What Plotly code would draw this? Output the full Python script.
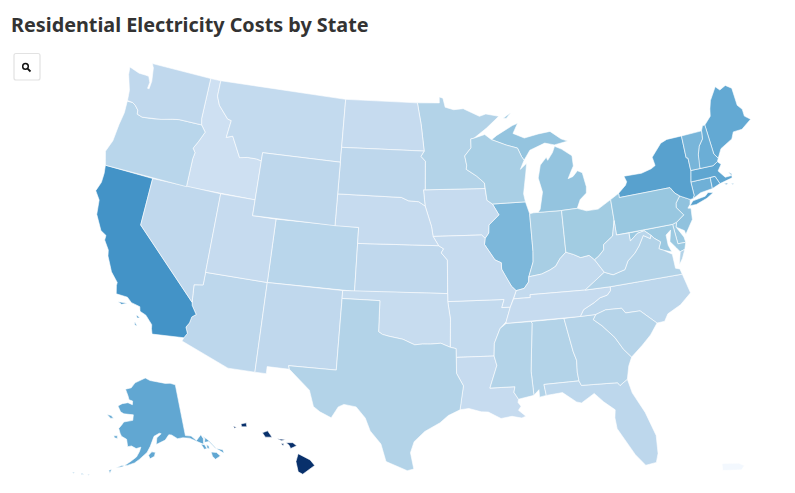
import math
import plotly.graph_objects as go
from plotly.colors import sample_colorscale

# plotly's usa topojson lives on a CDN and there's no network here,
# so the state outlines below are rough lon/lat rings typed by hand
# and projected with the same albers usa setup d3 uses.

STATES = ["AL","AK","AZ","AR","CA","CO","CT","DC","DE","FL","GA","HI","ID","IL","IN","IA","KS","KY","LA","ME","MD","MA","MI","MN","MS","MO","MT","NE","NV","NH","NJ","NM","NY","NC","ND","OH","OK","OR","PA","PR","RI","SC","SD","TN","TX","UT","VT","VA","WA","WV","WI","WY"]
COSTS = [13.0,19.4,12.1,11.5,22.0,12.4,18.2,15.0,15.0,12.1,12.7,33.0,10.1,17.3,14.0,11.2,11.8,11.5,11.2,19.2,15.0,19.6,15.6,13.0,13.0,11.2,11.5,11.2,11.8,18.5,15.9,11.8,20.2,12.1,11.2,14.5,11.1,12.4,15.3,4.6,19.4,12.7,12.0,11.2,13.0,11.2,17.6,13.0,11.8,12.4,13.9,12.0]
ZMIN = 4
ZMAX = 33

OUTLINES = {
    "WA": ["-117.03,49 -122.76,49 -122.55,48.75 -122.45,48.3 -122.35,47.9 -122.4,47.4 -122.55,47.4 -122.5,47.8 -122.75,48.15 -123.1,48.17 -123.7,48.17 -124.7,48.38 -124.6,47.9 -124.1,46.95 -124,46.3 -123.5,46.27 -123.2,46.15 -122.85,45.9 -122.8,45.65 -122.3,45.55 -121.2,45.65 -120.6,45.73 -119.6,45.92 -119,46 -116.92,46 -117.04,46.4"],
    "OR": ["-123.2,46.15 -123.5,46.27 -124,46.25 -123.95,45.5 -124.1,44.7 -124.2,43.6 -124.55,42.84 -124.2,42 -117.03,42 -117.03,43.8 -116.95,44.2 -117.2,44.45 -116.85,44.95 -116.46,45.6 -116.92,46 -119,46 -119.6,45.92 -120.6,45.73 -121.2,45.65 -122.3,45.55 -122.8,45.65 -122.85,45.9"],
    "CA": ["-124.2,42 -120,42 -120,39 -114.63,35 -114.57,34.8 -114.14,34.3 -114.43,34.1 -114.52,33.7 -114.72,33.4 -114.52,33.03 -114.72,32.72 -117.12,32.53 -117.25,32.85 -117.3,33.1 -117.9,33.6 -118.4,33.75 -118.5,34.03 -119.2,34.15 -119.6,34.42 -120.5,34.45 -120.65,34.95 -120.65,35.15 -121.3,35.7 -121.9,36.6 -122,36.96 -122.5,37.5 -122.5,37.8 -123,38 -123.7,38.9 -123.85,39.8 -124.35,40.3 -124.1,40.9 -124.1,41.5",
           "-120.2,34 -119.5,34.05 -119.9,33.9", "-118.6,33.48 -118.3,33.35 -118.5,33.3", "-118.6,33.03 -118.35,32.8 -118.55,32.85"],
    "NV": ["-120,42 -114.04,42 -114.04,36.2 -114.75,36.1 -114.63,35 -120,39"],
    "ID": ["-117.03,49 -116.05,49 -116.05,48 -115.7,47.45 -114.7,46.7 -114.35,46.65 -114.5,45.55 -113.95,45.7 -113.45,45.05 -113,44.45 -112.3,44.55 -111.5,44.55 -111.05,44.48 -111.05,42 -117.03,42 -117.03,43.8 -116.95,44.2 -117.2,44.45 -116.85,44.95 -116.46,45.6 -116.92,46 -117.04,46.4"],
    "MT": ["-116.05,49 -104.05,49 -104.05,45 -111.05,45 -111.05,44.48 -111.5,44.55 -112.3,44.55 -113,44.45 -113.45,45.05 -113.95,45.7 -114.5,45.55 -114.35,46.65 -114.7,46.7 -115.7,47.45 -116.05,48"],
    "WY": ["-111.05,45 -104.05,45 -104.05,41 -111.05,41"],
    "UT": ["-114.04,42 -111.05,42 -111.05,41 -109.05,41 -109.05,37 -114.04,37"],
    "AZ": ["-114.04,37 -109.05,37 -109.05,31.33 -111.07,31.33 -114.81,32.5 -114.72,32.72 -114.52,33.03 -114.72,33.4 -114.52,33.7 -114.43,34.1 -114.14,34.3 -114.57,34.8 -114.63,35 -114.75,36.1 -114.04,36.2"],
    "CO": ["-109.05,41 -102.05,41 -102.05,37 -109.05,37"],
    "NM": ["-109.05,37 -103,37 -103.04,32 -106.62,32 -106.53,31.78 -108.2,31.78 -108.2,31.33 -109.05,31.33"],
    "ND": ["-104.05,49 -97.23,49 -96.85,47.6 -96.56,45.94 -104.05,45.94"],
    "SD": ["-104.05,45.94 -96.56,45.94 -96.85,45.6 -96.45,45.3 -96.45,43.5 -96.6,43.5 -96.45,42.49 -97,42.75 -97.9,42.8 -98.5,43 -104.05,43"],
    "NE": ["-104.05,43 -98.5,43 -97.9,42.8 -97,42.75 -96.45,42.49 -96.1,41.7 -95.9,41.2 -95.77,40.58 -95.31,40 -102.05,40 -102.05,41 -104.05,41"],
    "KS": ["-102.05,40 -95.31,40 -94.9,39.8 -95.1,39.55 -94.6,39.1 -94.62,37 -102.05,37"],
    "OK": ["-103,37 -94.62,37 -94.62,36.5 -94.43,35.4 -94.48,33.64 -95.2,33.9 -96,33.85 -96.6,33.85 -97.2,33.8 -97.7,33.98 -98.1,34.13 -99.2,34.3 -99.7,34.4 -100,34.56 -100,36.5 -103,36.5"],
    "TX": ["-106.62,32 -103.04,32 -103,36.5 -100,36.5 -100,34.56 -99.7,34.4 -99.2,34.3 -98.1,34.13 -97.7,33.98 -97.2,33.8 -96.6,33.85 -96,33.85 -95.2,33.9 -94.48,33.64 -94.04,33.55 -94.04,33 -94.04,31.99 -93.55,31.2 -93.7,30.5 -93.84,29.7 -94.7,29.35 -95.3,28.9 -96.4,28.35 -97.15,27.7 -97.4,27 -97.15,25.96 -97.6,25.85 -98.2,26.06 -99.1,26.4 -99.5,27.5 -100.3,28.3 -100.7,29.1 -101.4,29.77 -102.3,29.88 -102.7,29.7 -103.15,28.98 -104,29.3 -104.5,29.6 -104.9,30.6 -106,31.4 -106.53,31.78"],
    "MN": ["-97.23,49 -95.15,49 -95.15,49.38 -94.8,49.3 -94.6,48.72 -93.8,48.55 -92.9,48.6 -92,48.3 -91.4,48.07 -90.8,48.2 -89.6,48 -90.8,47.3 -92,46.7 -92.3,46.66 -92.3,46.1 -92.9,45.6 -92.75,45 -92.8,44.75 -91.9,44.3 -91.25,43.85 -91.22,43.5 -96.45,43.5 -96.45,45.3 -96.85,45.6 -96.56,45.94 -96.85,47.6"],
    "IA": ["-96.6,43.5 -91.22,43.5 -91.1,42.75 -90.65,42.5 -90.15,41.8 -91.05,41.2 -91.1,40.7 -91.42,40.38 -91.7,40.6 -95.77,40.58 -95.9,41.2 -96.1,41.7 -96.45,42.49"],
    "MO": ["-95.77,40.58 -91.7,40.6 -91.42,40.38 -91.5,40 -90.7,39 -90.2,38.8 -90.2,38.4 -89.9,37.9 -89.5,37.3 -89.15,37 -89.4,36.5 -89.7,36 -90.37,36 -90.15,36.5 -94.62,36.5 -94.62,37 -94.6,39.1 -95.1,39.55 -94.9,39.8 -95.31,40"],
    "AR": ["-94.62,36.5 -90.15,36.5 -90.37,36 -89.7,36 -90.1,35.1 -90.6,34.7 -91.1,33.8 -91.17,33 -94.04,33 -94.04,33.55 -94.48,33.64 -94.43,35.4"],
    "LA": ["-94.04,33 -91.17,33 -91,32.4 -91.6,31 -89.75,31 -89.85,30.65 -89.55,30.2 -89.6,30 -89.4,29.75 -89.6,29.5 -89.1,29.1 -89.4,29 -90.1,29.15 -90.9,29.05 -91.8,29.5 -92.3,29.53 -93.2,29.77 -93.84,29.7 -93.7,30.5 -93.55,31.2 -94.04,31.99"],
    "WI": ["-92.3,46.66 -92,46.7 -91,46.9 -90.4,46.55 -89.1,46.15 -88.1,45.9 -87.8,45.35 -87.6,45.1 -88,44.55 -87.4,44.9 -87.55,44.3 -87.9,43 -87.8,42.49 -90.65,42.5 -91.1,42.75 -91.22,43.5 -91.25,43.85 -91.9,44.3 -92.8,44.75 -92.75,45 -92.9,45.6 -92.3,46.1"],
    "IL": ["-90.65,42.5 -87.8,42.49 -87.53,41.72 -87.53,39.35 -87.6,38.7 -88.05,37.8 -88.1,37.48 -88.5,37.1 -89.15,37 -89.5,37.3 -89.9,37.9 -90.2,38.4 -90.2,38.8 -90.7,39 -91.5,40 -91.42,40.38 -91.1,40.7 -91.05,41.2 -90.15,41.8"],
    "IN": ["-87.53,41.72 -87.2,41.76 -86.8,41.76 -84.8,41.72 -84.85,39.1 -85.4,38.73 -85.8,38.3 -86.3,38.1 -87,37.9 -88.05,37.8 -87.6,38.7 -87.53,39.35"],
    "MI": ["-86.8,41.76 -84.8,41.72 -83.45,41.73 -83.1,42.25 -82.5,42.6 -82.42,43 -82.6,43.9 -83,44.07 -83.45,43.75 -83.9,43.65 -83.55,44.1 -83.3,44.4 -83.3,45.05 -84.15,45.55 -84.75,45.78 -85,45.4 -85.5,44.95 -85.6,45.15 -86.2,44.7 -86.5,43.9 -86.25,43 -86.6,41.95",
           "-90.4,46.55 -89.9,46.8 -88.4,47.35 -87.9,47.47 -88.4,46.85 -87.4,46.5 -86.1,46.67 -85,46.75 -84.5,46.45 -84.1,46.2 -83.5,46 -83.9,45.95 -84.75,45.87 -85.6,46.05 -86.5,45.8 -87,45.7 -87.6,45.1 -87.8,45.35 -88.1,45.9 -89.1,46.15",
           "-89.2,47.85 -88.45,48.17 -88.9,47.85"],
    "OH": ["-84.8,41.72 -83.45,41.73 -82.7,41.5 -81.7,41.5 -80.52,41.97 -80.52,40.64 -80.85,39.7 -81.7,39.25 -81.75,38.93 -82.2,38.6 -82.6,38.4 -83,38.72 -83.7,38.65 -84.25,38.9 -84.85,39.1"],
    "KY": ["-89.4,36.5 -89.15,37 -88.5,37.1 -88.1,37.48 -88.05,37.8 -87,37.9 -86.3,38.1 -85.8,38.3 -85.4,38.73 -84.85,39.1 -84.25,38.9 -83.7,38.65 -83,38.72 -82.6,38.4 -81.97,37.54 -82.7,37.15 -83.68,36.6 -88.07,36.68 -88.07,36.5"],
    "TN": ["-89.4,36.5 -88.07,36.5 -88.07,36.68 -83.68,36.6 -81.68,36.59 -81.7,36.35 -82,36.1 -82.6,36 -83.1,35.75 -84,35.4 -84.32,35 -90.1,35 -90.1,35.1 -89.7,36"],
    "MS": ["-90.1,35 -88.2,35 -88.1,34.9 -88.47,31.9 -88.4,30.37 -89.55,30.2 -89.85,30.65 -89.75,31 -91.6,31 -91,32.4 -91.17,33 -91.1,33.8 -90.6,34.7"],
    "AL": ["-88.2,35 -85.6,35 -85.18,32.87 -85,32.3 -85.05,31.55 -85,31 -87.6,31 -87.5,30.3 -88,30.23 -88,30.7 -88.4,30.37 -88.47,31.9 -88.1,34.9"],
    "GA": ["-85.6,35 -83.1,35 -83.35,34.7 -82.75,34.25 -81.9,33.4 -81.4,32.6 -80.88,32.03 -81.2,31.5 -81.45,30.7 -82.05,30.37 -82.2,30.57 -84.86,30.7 -85,31 -85.05,31.55 -85,32.3 -85.18,32.87"],
    "FL": ["-87.6,31 -85,31 -84.86,30.7 -82.2,30.57 -82.05,30.37 -81.45,30.7 -81.25,29.8 -80.55,28.45 -80.05,26.9 -80.13,25.75 -80.35,25.2 -81.1,25.13 -81.7,25.9 -82.15,26.7 -82.7,27.7 -82.75,28.4 -82.65,28.9 -83.4,29.5 -84,30.1 -85,29.6 -85.35,29.7 -86.3,30.38 -87.5,30.3"],
    "SC": ["-83.35,34.7 -83.1,35 -82.3,35.2 -81.05,35.15 -80.8,34.82 -79.67,34.8 -78.55,33.86 -79.2,33.2 -79.95,32.65 -80.88,32.03 -81.4,32.6 -81.9,33.4 -82.75,34.25"],
    "NC": ["-84.32,35 -84,35.4 -83.1,35.75 -82.6,36 -82,36.1 -81.7,36.35 -81.68,36.59 -75.87,36.55 -75.55,35.3 -76.5,34.7 -77.6,34.3 -77.95,33.88 -78.55,33.86 -79.67,34.8 -80.8,34.82 -81.05,35.15 -82.3,35.2 -83.1,35"],
    "VA": ["-83.68,36.6 -82.7,37.15 -81.97,37.54 -81.3,37.3 -80.3,37.5 -79.95,38 -79.3,38.4 -78.85,38.8 -78.35,39.4 -77.83,39.13 -77.72,39.32 -77.5,39.1 -77.05,38.8 -77.3,38.4 -76.95,38.25 -76.32,37.9 -76.3,37.6 -76.3,37 -75.97,36.9 -75.87,36.55 -81.68,36.59",
           "-75.95,37.15 -75.65,37.95 -75.25,38.03 -75.6,37.5"],
    "WV": ["-82.6,38.4 -82.2,38.6 -81.75,38.93 -81.7,39.25 -80.85,39.7 -80.52,40.64 -80.52,39.72 -79.48,39.72 -79.48,39.2 -78.8,39.6 -78.2,39.68 -77.72,39.32 -77.83,39.13 -78.35,39.4 -78.85,38.8 -79.3,38.4 -79.95,38 -80.3,37.5 -81.3,37.3 -81.97,37.54"],
    "PA": ["-80.52,41.97 -79.76,42.27 -79.76,42 -75.35,42 -75.05,41.6 -74.7,41.36 -75.13,40.97 -75.2,40.7 -74.72,40.15 -75.42,39.8 -75.79,39.72 -80.52,39.72"],
    "NY": ["-79.76,42.27 -79.05,42.7 -78.9,42.9 -79.05,43.27 -77.5,43.25 -76.6,43.4 -76.2,43.55 -76.3,44.1 -75.3,44.85 -74.7,45 -73.35,45 -73.35,44.3 -73.4,43.6 -73.25,43.55 -73.27,42.75 -73.5,42.05 -73.49,41.2 -73.65,41 -73.9,41 -74.7,41.36 -75.05,41.6 -75.35,42 -79.76,42",
           "-74.03,40.62 -73.7,40.87 -72.6,40.97 -72.3,41.15 -71.87,41.07 -72.5,40.82 -73.5,40.6"],
    "NJ": ["-74.7,41.36 -73.9,41 -74,40.7 -74.25,40.5 -74,40.45 -74.1,39.75 -74.9,38.93 -74.95,39.18 -75.55,39.5 -75.42,39.8 -74.72,40.15 -75.2,40.7 -75.13,40.97"],
    "DE": ["-75.79,39.72 -75.42,39.8 -75.55,39.5 -75.1,38.8 -75.05,38.45 -75.7,38.46"],
    "MD": ["-79.48,39.72 -75.79,39.72 -75.7,38.46 -75.05,38.45 -75.25,38.03 -75.65,37.95 -75.9,38.25 -76.3,38.7 -76.05,39.4 -76.5,39.15 -76.5,38.5 -76.32,38.05 -76.95,38.25 -77.3,38.4 -77.05,38.8 -77.5,39.1 -77.72,39.32 -78.2,39.68 -78.8,39.6 -79.48,39.2"],
    "DC": ["-77.12,38.93 -77.04,39 -76.91,38.89 -77.04,38.79"],
    "CT": ["-73.5,42.05 -71.8,42.02 -71.85,41.32 -72.9,41.25 -73.65,41 -73.49,41.2"],
    "RI": ["-71.8,42.02 -71.38,42.02 -71.12,41.5 -71.85,41.32"],
    "MA": ["-73.5,42.05 -73.27,42.75 -71.3,42.7 -70.85,42.87 -70.6,42.65 -71,42.3 -70.55,41.8 -70,41.8 -70.2,42.07 -69.95,41.9 -70,41.65 -70.65,41.55 -71.12,41.5 -71.38,42.02 -71.8,42.02",
           "-70.8,41.45 -70.45,41.4 -70.6,41.33", "-70.2,41.3 -69.95,41.28 -70.1,41.23"],
    "VT": ["-73.35,45 -71.5,45 -71.6,44.5 -72.05,44.1 -72.3,43.6 -72.45,43 -72.46,42.73 -73.27,42.75 -73.25,43.55 -73.4,43.6 -73.35,44.3"],
    "NH": ["-71.5,45 -71.3,45.3 -71.08,45.3 -70.98,43.4 -70.7,43.07 -70.85,42.87 -71.3,42.7 -72.46,42.73 -72.45,43 -72.3,43.6 -72.05,44.1 -71.6,44.5"],
    "ME": ["-71.08,45.3 -70.4,45.75 -70.25,46.2 -70,46.7 -69.23,47.46 -68.9,47.18 -68.3,47.36 -67.8,47.07 -67.78,45.94 -67.45,45.6 -67.45,45.15 -67,44.85 -68,44.4 -68.8,44.4 -69.1,44 -69.8,43.75 -70.25,43.6 -70.7,43.07 -70.98,43.4"],
    "AK": ["-141,69.65 -143.5,70.1 -146,70.2 -149,70.5 -152,70.85 -154,70.9 -156.6,71.35 -159,70.85 -161.9,70.3 -163.5,69.3 -166.2,68.9 -164.5,67.8 -163.7,67.1 -162,66.95 -161.9,66.3 -164,66.55 -166.5,66.2 -168.1,65.65 -166.5,64.7 -165,64.45 -162.8,64.5 -161,64.5 -161,63.5 -162.7,63.3 -164.5,63 -165,62.5 -166,61.7 -165.2,60.9 -164.5,60.4 -162.5,60 -162.2,59.2 -161.9,59 -161.8,58.7 -160.5,58.9 -158.8,58.5 -157.2,58.8 -157.6,58 -158.5,57 -160.5,56 -162.7,55 -164.7,54.6 -163,55.2 -161,55.4 -159,55.9 -157.5,56.6 -155,57.9 -153.9,59 -153,60.2 -152.5,60.8 -150.5,61.3 -149.8,61.2 -151.5,60.5 -151.8,59.3 -150,59.7 -148.5,60 -147,60.9 -146,60.8 -144,60 -142,60 -139.7,59.7 -137.5,58.9 -135.5,58 -135,59 -135.5,59.8 -137.5,59 -139,60 -141,60.3",
           "-135,58.3 -133.5,58.2 -132.2,56.8 -131,55.9 -130,55.3 -130,56 -131.8,56.6 -133.4,58.4 -135,59.5 -134.5,58.9", "-136.3,58.2 -135.2,57.9 -134.8,57.1 -135.7,57.1", "-134.5,57.8 -133.9,57.4 -134.1,56.9 -134.7,57.2",
           "-133.8,56.3 -132.2,55.9 -131.4,55.1 -133.2,54.8 -133.8,55.5", "-154.5,57.4 -153.4,58 -152.2,57.9 -152.5,57.2 -154,56.75", "-171.7,63.7 -170,63.7 -168.8,63.3 -170,63.2", "-167.3,60.25 -166,60.35 -165.8,59.9 -166.9,59.9",
           "-166.7,54 -165.9,54.2 -166.2,53.5", "-169,53 -168,53.6 -168.3,53.3", "-172.6,52.4 -172,52.4 -172.3,52.25", "-174.5,52.2 -173.5,52.2 -174.3,52", "-177,51.95 -176.3,51.95 -176.7,51.75", "-178.6,51.7 -177.9,51.7 -178.3,51.6"],
    "HI": ["-155.9,20.25 -155.1,19.85 -154.8,19.5 -155.6,18.95 -155.9,19.1 -156.05,19.75", "-156.7,20.95 -156.25,20.95 -156,20.75 -156.4,20.58 -156.5,20.78",
           "-158.3,21.58 -157.95,21.7 -157.65,21.3 -158.1,21.3", "-159.75,22.13 -159.4,22.2 -159.35,21.95 -159.7,21.95", "-157.3,21.2 -156.75,21.15 -157,21.08", "-157.05,20.9 -156.85,20.9 -156.9,20.75", "-160.25,22 -160.05,21.9 -160.2,21.85"],
    "PR": ["-67.25,18.45 -66,18.47 -65.6,18.3 -65.8,18 -67.2,17.95"],
}

KEY = 908
CX, CY = 423, 266.5


def conic(lon, lat, rot, center, par1, par2):
    p1, p2 = math.radians(par1), math.radians(par2)
    n = (math.sin(p1) + math.sin(p2)) / 2
    c = math.cos(p1) ** 2 + 2 * n * math.sin(p1)

    def raw(lam, phi):
        rho = math.sqrt(c - 2 * n * math.sin(math.radians(phi))) / n
        a = n * math.radians(lam)
        return rho * math.sin(a), -rho * math.cos(a)

    x0, y0 = raw(center[0], center[1])
    lam = lon + rot
    if lam > 180:
        lam -= 360
    x, y = raw(lam, lat)
    return x - x0, y - y0


def project(state, lon, lat):
    if state == "AK":
        x, y = conic(lon, lat, 154, (-2, 58.5), 55, 65)
        return CX - 0.307 * KEY + 0.35 * KEY * x, CY + 0.201 * KEY - 0.35 * KEY * y
    if state == "HI":
        x, y = conic(lon, lat, 157, (-3, 19.9), 8, 18)
        return CX - 0.205 * KEY + KEY * x, CY + 0.212 * KEY - KEY * y
    if state == "PR":
        x, y = conic(lon, lat, 66.4, (0, 18.2), 8, 18)
        return CX + 0.342 * KEY + 0.9 * KEY * x, CY + 0.2208 * KEY - 0.9 * KEY * y
    x, y = conic(lon, lat, 96, (-0.6, 38.7), 29.5, 45.5)
    return CX + KEY * x, CY - KEY * y


fig = go.Figure()
for state, cost in zip(STATES, COSTS):
    xs, ys = [], []
    for ring in OUTLINES[state]:
        pts = [tuple(float(v) for v in p.split(",")) for p in ring.split()]
        pts.append(pts[0])
        for lon, lat in pts:
            x, y = project(state, lon, lat)
            xs.append(x)
            ys.append(y)
        xs.append(None)
        ys.append(None)
    color = sample_colorscale("Blues", (cost - ZMIN) / (ZMAX - ZMIN))[0]
    fig.add_trace(go.Scatter(
        x=xs, y=ys, mode="lines", fill="toself", fillcolor=color,
        line=dict(color="white", width=0.6),
        name=state, text=f"{state}: {cost}", hoverinfo="text",
    ))

# zoom button, top left
fig.add_shape(type="path", path="M 16 53.5 L 38 53.5 Q 40 53.5 40 55.5 L 40 78 Q 40 80 38 80 L 16 80 Q 14 80 14 78 L 14 55.5 Q 14 53.5 16 53.5 Z",
              line=dict(color="#e2e2e2", width=1.2), fillcolor="white")
fig.add_shape(type="circle", x0=22.7, y0=63.6, x1=28.3, y1=69.2, line=dict(color="#111111", width=1.5))
fig.add_shape(type="line", x0=27.6, y0=68.6, x1=30.5, y1=71.5, line=dict(color="#111111", width=1.8))

fig.update_layout(
    title=dict(text="<b>Residential Electricity Costs by State</b>", x=11 / 795, xanchor="left",
               y=1 - 25 / 493, yanchor="middle", font=dict(family="Noto Sans", size=19.8, color="#333333")),
    xaxis=dict(range=[0, 795], visible=False, fixedrange=True),
    yaxis=dict(range=[493, 0], visible=False, fixedrange=True),
    showlegend=False,
    plot_bgcolor="white",
    paper_bgcolor="white",
    margin=dict(l=0, r=0, t=0, b=0),
    width=795,
    height=493,
)
fig.write_html("out.html", config=dict(displayModeBar=False), post_script="document.body.style.margin='0'")
